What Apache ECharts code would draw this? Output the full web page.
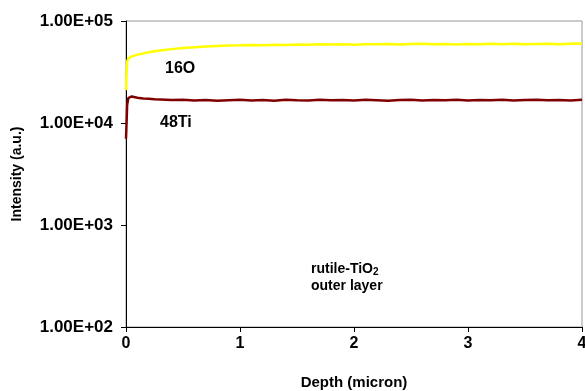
<!DOCTYPE html>
<html>
<head>
<meta charset="utf-8">
<script src="https://cdn.jsdelivr.net/npm/echarts@6/dist/echarts.min.js"></script>
<style>
  html, body { margin: 0; padding: 0; background: #fff; }
  #chart { width: 585px; height: 391px; }
</style>
</head>
<body>
<div id="chart"></div>
<script>
// depth (micron)
const depth = [0, 0.005, 0.01, 0.02, 0.03, 0.05, 0.08, 0.1, 0.15, 0.2, 0.25, 0.3, 0.4, 0.5, 0.6, 0.7, 0.8, 0.9,
  1.0, 1.1, 1.2, 1.3, 1.4, 1.5, 1.6, 1.7, 1.8, 1.9, 2.0, 2.1, 2.2, 2.3, 2.4, 2.5, 2.6, 2.7, 2.8, 2.9,
  3.0, 3.1, 3.2, 3.3, 3.4, 3.5, 3.6, 3.7, 3.8, 3.9, 4.0];

// 16O intensity
const o16 = [21000, 30000, 40000, 43000, 44000, 45000, 46000, 46800, 48000, 49500, 50500, 51500, 53000, 54500, 55300, 56300, 57000, 57600,
  57900, 58300, 57800, 58600, 58200, 58900, 58400, 59000, 58700, 59200, 58600, 59300, 59000, 59600, 58900, 59400, 59800, 59100,
  59500, 58900, 59600, 59200, 59800, 59300, 59700, 59000, 59500, 59900, 59300, 59800, 60200];

// 48Ti intensity
const ti48 = [7000, 10000, 15000, 17500, 18000, 18200, 17900, 17700, 17400, 17300, 17100, 17000, 16800, 16900, 16600, 16800, 16500,
  16700, 16900, 16600, 16800, 16500, 16900, 16700, 16600, 16900, 16700, 16800, 16600, 16900, 16700, 16500, 16800, 16900, 16600,
  16800, 16700, 16900, 16600, 16800, 16700, 16900, 16600, 16800, 16900, 16700, 16800, 16600, 16900];

const yTickLabels = { 100: '1.00E+02', 1000: '1.00E+03', 10000: '1.00E+04', 100000: '1.00E+05' };

const chart = echarts.init(document.getElementById('chart'));
const font = 'Liberation Sans, Arial, sans-serif';

chart.setOption({
  animation: false,
  grid: {
    left: 126, right: 3, top: 21, bottom: 64,
    outerBoundsMode: 'none',
    show: true, borderColor: '#999', borderWidth: 1
  },
  xAxis: {
    type: 'value', min: 0, max: 4, interval: 1,
    name: 'Depth (micron)', nameLocation: 'middle', nameGap: 48,
    nameTextStyle: { fontFamily: font, fontWeight: 'bold', fontSize: 15, color: '#000' },
    axisLine: { lineStyle: { color: '#000', width: 1 } },
    axisTick: { show: true, inside: false, length: 5, lineStyle: { color: '#000' } },
    axisLabel: { fontFamily: font, fontWeight: 'bold', fontSize: 16, color: '#000', margin: 9 },
    splitLine: { show: false }
  },
  yAxis: {
    type: 'log', logBase: 10, min: 100, max: 100000,
    name: 'Intensity (a.u.)', nameLocation: 'middle', nameGap: 102, nameRotate: 90,
    nameTextStyle: { fontFamily: font, fontWeight: 'bold', fontSize: 14, color: '#000' },
    axisLine: { show: true, lineStyle: { color: '#000', width: 1 } },
    axisTick: { show: true, inside: false, length: 5, lineStyle: { color: '#000' } },
    axisLabel: {
      fontFamily: font, fontWeight: 'bold', fontSize: 17, color: '#000', margin: 13,
      formatter: v => yTickLabels[Math.round(v)] || ''
    },
    minorTick: { show: false },
    splitLine: { show: false }
  },
  series: [
    {
      name: '16O', type: 'line', showSymbol: false,
      data: depth.map((d, i) => [d, o16[i]]),
      lineStyle: { color: '#FFFF00', width: 2.5 }
    },
    {
      name: '48Ti', type: 'line', showSymbol: false,
      data: depth.map((d, i) => [d, ti48[i]]),
      lineStyle: { color: '#800000', width: 2.5 }
    }
  ],
  graphic: [
    { type: 'text', left: 165, top: 61, style: { text: '16O', font: 'bold 16px ' + font, fill: '#000' } },
    { type: 'text', left: 160, top: 115, style: { text: '48Ti', font: 'bold 16px ' + font, fill: '#000' } },
    {
      type: 'text', left: 311, top: 262,
      style: {
        text: '{a|rutile-TiO}{s|2}\n{a|outer layer}',
        fill: '#000',
        rich: {
          a: { fontFamily: font, fontWeight: 'bold', fontSize: 14, lineHeight: 17 },
          s: { fontFamily: font, fontWeight: 'bold', fontSize: 10, lineHeight: 6, verticalAlign: 'bottom' }
        }
      }
    }
  ]
});
</script>
</body>
</html>
